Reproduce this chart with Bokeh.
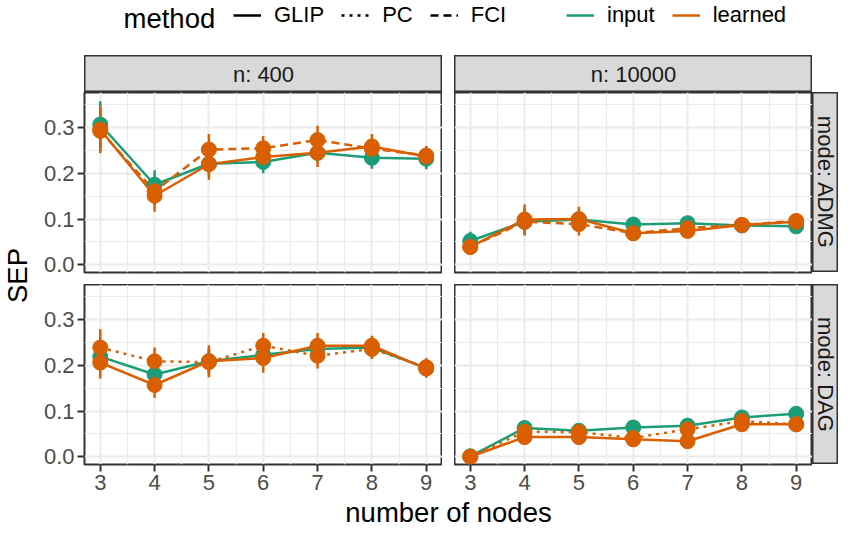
import math
from bokeh.plotting import figure
from bokeh.layouts import column, row
from bokeh.models import (ColumnDataSource, Range1d, FixedTicker, PrintfTickFormatter,
                          Label, Legend, LegendItem, Spacer)
from bokeh.embed import file_html
from bokeh.resources import INLINE

FONT = "Liberation Sans"
GREEN = "#1B9E77"
ORANGE = "#D95F02"

# ---------------- data ----------------
nodes = [3, 4, 5, 6, 7, 8, 9]
x_minor = [3.5, 4.5, 5.5, 6.5, 7.5, 8.5]
y_ticks = [0.0, 0.1, 0.2, 0.3]
y_minor = [0.05, 0.15, 0.25, 0.35]
n_labels = ["n: 400", "n: 10000"]
mode_labels = ["mode: ADMG", "mode: DAG"]
methods = ["GLIP", "PC", "FCI"]
graph_inputs = ["input", "learned"]

# mode ADMG, n = 400
admg400_glip_input = [0.307, 0.175, 0.221, 0.225, 0.245, 0.234, 0.232]
admg400_glip_input_err = [0.051, 0.032, 0.025, 0.025, 0.020, 0.024, 0.023]
admg400_glip_learned = [0.296, 0.151, 0.220, 0.236, 0.245, 0.259, 0.237]
admg400_glip_learned_err = [0.052, 0.035, 0.034, 0.025, 0.031, 0.027, 0.023]
admg400_fci_learned = [0.293, 0.161, 0.252, 0.255, 0.273, 0.254, 0.239]
admg400_fci_learned_err = [0.045, 0.030, 0.034, 0.027, 0.031, 0.020, 0.020]

# mode ADMG, n = 10000
admg10k_glip_input = [0.052, 0.094, 0.099, 0.088, 0.091, 0.086, 0.084]
admg10k_glip_input_err = [0.020, 0.012, 0.010, 0.008, 0.008, 0.008, 0.008]
admg10k_glip_learned = [0.039, 0.099, 0.100, 0.069, 0.074, 0.087, 0.094]
admg10k_glip_learned_err = [0.015, 0.033, 0.027, 0.010, 0.012, 0.010, 0.012]
admg10k_fci_learned = [0.039, 0.094, 0.089, 0.069, 0.080, 0.087, 0.096]
admg10k_fci_learned_err = [0.015, 0.030, 0.025, 0.010, 0.012, 0.010, 0.012]

# mode DAG, n = 400
dag400_glip_input = [0.219, 0.180, 0.209, 0.223, 0.236, 0.239, 0.194]
dag400_glip_input_err = [0.025, 0.020, 0.025, 0.025, 0.025, 0.020, 0.018]
dag400_glip_learned = [0.206, 0.157, 0.209, 0.216, 0.243, 0.243, 0.193]
dag400_glip_learned_err = [0.035, 0.028, 0.035, 0.032, 0.028, 0.022, 0.020]
dag400_pc_learned = [0.239, 0.209, 0.207, 0.243, 0.221, 0.236, 0.196]
dag400_pc_learned_err = [0.040, 0.030, 0.030, 0.028, 0.028, 0.022, 0.020]

# mode DAG, n = 10000
dag10k_glip_input = [0.001, 0.063, 0.057, 0.064, 0.068, 0.086, 0.094]
dag10k_glip_input_err = [0.003, 0.008, 0.006, 0.006, 0.006, 0.006, 0.006]
dag10k_glip_learned = [0.000, 0.043, 0.043, 0.038, 0.034, 0.071, 0.071]
dag10k_glip_learned_err = [0.003, 0.010, 0.008, 0.008, 0.008, 0.008, 0.008]
dag10k_pc_learned = [0.000, 0.055, 0.054, 0.041, 0.060, 0.078, 0.071]
dag10k_pc_learned_err = [0.003, 0.008, 0.008, 0.008, 0.008, 0.008, 0.008]

# ---------------- styles ----------------
DASH = {"GLIP": "solid", "PC": "3 5", "FCI": "8 5"}
COLOR = {"input": GREEN, "learned": ORANGE}

panels = {
    ("ADMG", 400): [("GLIP", "input", admg400_glip_input, admg400_glip_input_err),
                    ("GLIP", "learned", admg400_glip_learned, admg400_glip_learned_err),
                    ("FCI", "learned", admg400_fci_learned, admg400_fci_learned_err)],
    ("ADMG", 10000): [("GLIP", "input", admg10k_glip_input, admg10k_glip_input_err),
                      ("GLIP", "learned", admg10k_glip_learned, admg10k_glip_learned_err),
                      ("FCI", "learned", admg10k_fci_learned, admg10k_fci_learned_err)],
    ("DAG", 400): [("GLIP", "input", dag400_glip_input, dag400_glip_input_err),
                   ("GLIP", "learned", dag400_glip_learned, dag400_glip_learned_err),
                   ("PC", "learned", dag400_pc_learned, dag400_pc_learned_err)],
    ("DAG", 10000): [("GLIP", "input", dag10k_glip_input, dag10k_glip_input_err),
                     ("GLIP", "learned", dag10k_glip_learned, dag10k_glip_learned_err),
                     ("PC", "learned", dag10k_pc_learned, dag10k_pc_learned_err)],
}

PW, PH = 358, 180          # panel frame size
LEFT_B, BOT_B = 50, 32     # axis borders
TOP_PAD = 5                # room under the upper panels for the "0.0" label
GAP = 12
STRIP_H, STRIP_W = 37, 26
SEP_W = 34
LG_H = 55
XL_H = 32


def blank(w, h, xr, yr):
    f = figure(width=w, height=h, x_range=Range1d(*xr), y_range=Range1d(*yr),
               output_backend="svg", toolbar_location=None, min_border=0,
               x_axis_location=None, y_axis_location=None, title=None)
    f.xgrid.visible = False
    f.ygrid.visible = False
    f.outline_line_color = None
    return f


def make_panel(series, show_x, show_y):
    lb = LEFT_B if show_y else 0
    bb = BOT_B if show_x else TOP_PAD
    p = figure(width=PW + lb, height=PH + bb,
               x_range=Range1d(2.71, 9.30), y_range=Range1d(-0.017, 0.377),
               output_backend="svg", toolbar_location=None, title=None,
               min_border=0, min_border_left=lb, min_border_bottom=bb,
               x_axis_location="below" if show_x else None,
               y_axis_location="left" if show_y else None)
    p.background_fill_color = "white"
    p.border_fill_color = "white"
    p.outline_line_color = "#333333"
    p.outline_line_width = 2
    p.xgrid.ticker = FixedTicker(ticks=nodes, minor_ticks=x_minor)
    p.ygrid.ticker = FixedTicker(ticks=y_ticks, minor_ticks=y_minor)
    for g in (p.xgrid, p.ygrid):
        g.grid_line_color = "#EBEBEB"
        g.grid_line_width = 2
        g.minor_grid_line_color = "#EBEBEB"
        g.minor_grid_line_width = 1.2
    axes = []
    if show_x:
        p.xaxis.ticker = FixedTicker(ticks=nodes)
        p.xaxis.formatter = PrintfTickFormatter(format="%d")
        axes.append(p.xaxis)
    if show_y:
        p.yaxis.ticker = FixedTicker(ticks=y_ticks)
        p.yaxis.formatter = PrintfTickFormatter(format="%.1f")
        axes.append(p.yaxis)
    for ax in axes:
        ax.axis_line_color = None
        ax.major_tick_line_color = "#333333"
        ax.major_tick_line_width = 2
        ax.major_tick_out = 7
        ax.major_tick_in = 0
        ax.minor_tick_line_color = None
        ax.major_label_standoff = 3
        ax.major_label_text_font = FONT
        ax.major_label_text_font_size = "22px"
        ax.major_label_text_color = "#4D4D4D"

    sources = []
    for method, gi, vals, errs in series:
        src = ColumnDataSource(dict(
            x=nodes, y=vals,
            lo=[v - e for v, e in zip(vals, errs)],
            hi=[v + e for v, e in zip(vals, errs)]))
        sources.append((method, gi, src))
    for method, gi, src in sources:
        p.line("x", "y", source=src, line_color=COLOR[gi], line_width=2.5,
               line_dash=DASH[method])
    for method, gi, src in sources:
        p.segment(x0="x", y0="lo", x1="x", y1="hi", source=src,
                  line_color=COLOR[gi], line_width=2.5)
    for method, gi, src in sources:
        p.scatter("x", "y", source=src, size=15, marker="circle",
                  fill_color=COLOR[gi], line_color=COLOR[gi])
    return p


def make_strip(text, w, h, vertical):
    s = blank(w, h, (0, 1), (0, 1))
    s.background_fill_color = "#D9D9D9"
    s.border_fill_color = "#D9D9D9"
    s.outline_line_color = "#333333"
    s.outline_line_width = 2
    s.add_layout(Label(x=0.5, y=0.5, text=text, text_align="center",
                       text_baseline="middle",
                       angle=-math.pi / 2 if vertical else 0,
                       text_font=FONT, text_font_size="22px",
                       text_color="#1A1A1A"))
    return s


# ---------------- panels ----------------
p11 = make_panel(panels[("ADMG", 400)], False, True)
p12 = make_panel(panels[("ADMG", 10000)], False, False)
p21 = make_panel(panels[("DAG", 400)], True, True)
p22 = make_panel(panels[("DAG", 10000)], True, False)

s_top1 = make_strip(n_labels[0], PW, STRIP_H, False)
s_top2 = make_strip(n_labels[1], PW, STRIP_H, False)
s_r1 = make_strip(mode_labels[0], STRIP_W, PH, True)
s_r2 = make_strip(mode_labels[1], STRIP_W, PH, True)

BLOCK_W = LEFT_B + PW + GAP + PW + STRIP_W
BLOCK_H = STRIP_H + PH + GAP + PH + BOT_B
TOTAL_W = SEP_W + BLOCK_W

strip_row = row(Spacer(width=LEFT_B, height=STRIP_H), s_top1,
                Spacer(width=GAP, height=STRIP_H), s_top2,
                Spacer(width=STRIP_W, height=STRIP_H))
row1 = row(p11, Spacer(width=GAP, height=PH + TOP_PAD), p12,
           column(s_r1, Spacer(width=STRIP_W, height=TOP_PAD)))
row2 = row(p21, Spacer(width=GAP, height=PH + BOT_B), p22,
           column(s_r2, Spacer(width=STRIP_W, height=BOT_B)))
block = column(strip_row, row1, Spacer(width=BLOCK_W, height=GAP - TOP_PAD), row2)

# y-axis title
sep_fig = blank(SEP_W, BLOCK_H, (0, SEP_W), (0, BLOCK_H))
panel_mid = BLOCK_H - (STRIP_H + (PH + GAP + PH) / 2)
sep_fig.add_layout(Label(x=SEP_W / 2, y=panel_mid + 3, text="SEP", text_align="center",
                         text_baseline="middle", angle=math.pi / 2,
                         text_font=FONT, text_font_size="27.5px", text_color="black"))

# x-axis title
xl_fig = blank(TOTAL_W, XL_H, (0, TOTAL_W), (0, XL_H))
x_center = SEP_W + LEFT_B + (PW + GAP + PW) / 2
xl_fig.add_layout(Label(x=x_center, y=XL_H / 2, text="number of nodes", text_align="center",
                        text_baseline="middle", text_font=FONT,
                        text_font_size="27.5px", text_color="black"))

# legend (dummy renderers hold a single NaN so the legend can style its keys)
lg = blank(TOTAL_W, LG_H, (0, TOTAL_W), (0, LG_H))
nan = float("nan")
method_rs = [lg.line(x=[nan], y=[nan], line_color="black", line_width=2.5,
                     line_dash=DASH[m]) for m in methods]
input_rs = [lg.line(x=[nan], y=[nan], line_color=COLOR[g], line_width=2.5)
            for g in graph_inputs]

common = dict(orientation="horizontal", glyph_width=28, glyph_height=24, label_height=24,
              label_standoff=13, spacing=17, padding=0, margin=0,
              border_line_color=None, background_fill_alpha=0,
              label_text_font=FONT, label_text_font_size="22px", label_text_color="black")
leg_center_from_top = 16
leg_y = LG_H - leg_center_from_top - 12
leg1 = Legend(items=[LegendItem(label=m, renderers=[r]) for m, r in zip(methods, method_rs)],
              location=(233, leg_y), **common)
leg2 = Legend(items=[LegendItem(label=g, renderers=[r]) for g, r in zip(graph_inputs, input_rs)],
              location=(566, leg_y), **common)
lg.add_layout(leg1)
lg.add_layout(leg2)
lg.add_layout(Label(x=123, y=LG_H - 18, text="method", text_align="left",
                    text_baseline="alphabetic", text_font=FONT,
                    text_font_size="27.5px", text_color="black"))

page = column(lg, row(sep_fig, block), xl_fig)

open("out.html", "w").write(file_html(page, INLINE))
